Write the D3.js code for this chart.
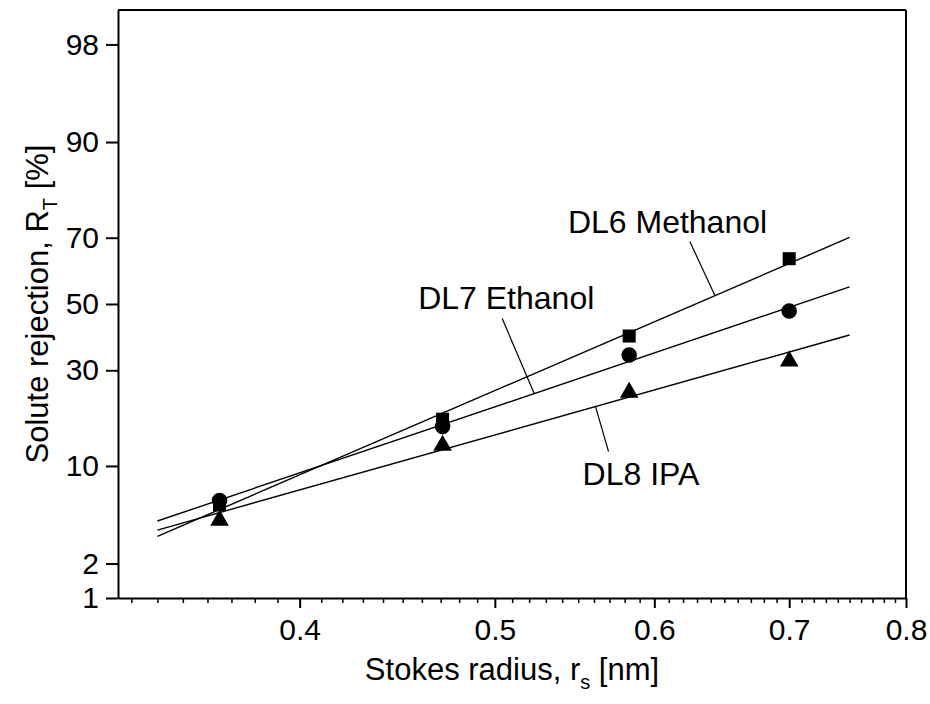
<!DOCTYPE html>
<html lang="en">
<head>
<meta charset="utf-8">
<title>Solute rejection vs Stokes radius</title>
<script src="https://d3js.org/d3.v7.min.js"></script>
<style>
body {
  margin: 0;
  background: #fff;
}
svg {
  font-family: "Liberation Sans", Arial, sans-serif;
}
.axis path, .axis line {
  stroke: #000;
}
.axis text {
  font-size: 30px;
  fill: #000;
}
</style>
</head>
<body>
<svg width="930" height="704"></svg>
<script>
// Stokes radius of the solutes [nm]
var radius = [0.365, 0.471, 0.583, 0.700];
// solute rejection R_T [%] per membrane / solvent
var methanol = [5.6, 18.1, 40.0, 64.0];   // DL6, squares
var ethanol = [6.0, 16.6, 34.3, 47.8];    // DL7, circles
var ipa = [4.5, 13.5, 24.7, 33.1];        // DL8, triangles
var seriesNames = ["DL6 Methanol", "DL7 Ethanol", "DL8 IPA"];
var yTicks = [1, 2, 10, 30, 50, 70, 90, 98];
var xTicks = [0.4, 0.5, 0.6, 0.7, 0.8];
var fitRange = [0.34, 0.75];

var svg = d3.select("svg"),
    margin = {top: 10, right: 24, bottom: 106, left: 118},
    width = +svg.attr("width") - margin.left - margin.right,
    height = +svg.attr("height") - margin.top - margin.bottom;

var g = svg.append("g").attr("transform", "translate(" + margin.left + "," + margin.top + ")");

// inverse normal cdf (Acklam)
function probit(p) {
  var a = [-3.969683028665376e+01, 2.209460984245205e+02, -2.759285104469687e+02, 1.383577518672690e+02, -3.066479806614716e+01, 2.506628277459239e+00],
      b = [-5.447609879822406e+01, 1.615858368580409e+02, -1.556989798598866e+02, 6.680131188771972e+01, -1.328068155288572e+01],
      c = [-7.784894002430293e-03, -3.223964580411365e-01, -2.400758277161838e+00, -2.549732539343734e+00, 4.374664141464968e+00, 2.938163982698783e+00],
      d = [7.784695709041462e-03, 3.224671290700398e-01, 2.445134137142996e+00, 3.754408661907416e+00];
  var q, r;
  if (p < 0.02425) {
    q = Math.sqrt(-2 * Math.log(p));
    return (((((c[0]*q+c[1])*q+c[2])*q+c[3])*q+c[4])*q+c[5]) / ((((d[0]*q+d[1])*q+d[2])*q+d[3])*q+1);
  }
  if (p > 1 - 0.02425) {
    q = Math.sqrt(-2 * Math.log(1 - p));
    return -(((((c[0]*q+c[1])*q+c[2])*q+c[3])*q+c[4])*q+c[5]) / ((((d[0]*q+d[1])*q+d[2])*q+d[3])*q+1);
  }
  q = p - 0.5;
  r = q * q;
  return (((((a[0]*r+a[1])*r+a[2])*r+a[3])*r+a[4])*r+a[5])*q / (((((b[0]*r+b[1])*r+b[2])*r+b[3])*r+b[4])*r+1);
}
function zOf(pct) { return probit(pct / 100); }

var x = d3.scaleLog().domain([0.325, 0.8]).range([0, width]);
var yz = d3.scaleLinear().domain([zOf(1), zOf(99)]).range([height, 0]);
function y(pct) { return yz(zOf(pct)); }

// x axis
var xMinor = d3.range(33, 80).map(function(v) { return v / 100; })
  .filter(function(v) { return xTicks.indexOf(v) < 0; });

g.append("g").attr("class", "axis")
  .attr("transform", "translate(0," + height + ")")
  .call(d3.axisBottom(x).tickValues(xMinor).tickSize(5).tickFormat(""))
  .call(function(s) { s.select(".domain").remove(); s.selectAll("line").attr("stroke-width", 1.5); });

g.append("g").attr("class", "axis")
  .attr("transform", "translate(0," + height + ")")
  .call(d3.axisBottom(x).tickValues(xTicks).tickSize(10).tickSizeOuter(0).tickPadding(11)
    .tickFormat(d3.format(".1f")))
  .call(function(s) { s.select(".domain").attr("stroke-width", 2); s.selectAll("line").attr("stroke-width", 2); });

// y axis (probability scale)
g.append("g").attr("class", "axis")
  .call(d3.axisLeft(yz).tickValues(yTicks.map(zOf)).tickSize(12).tickSizeOuter(0).tickPadding(7)
    .tickFormat(function(d, i) { return yTicks[i]; }))
  .call(function(s) { s.select(".domain").attr("stroke-width", 2); s.selectAll("line").attr("stroke-width", 2); });

// frame top/right
g.append("line").attr("x1", 0).attr("x2", width).attr("y1", 0).attr("y2", 0)
  .attr("stroke", "#000").attr("stroke-width", 2);
g.append("line").attr("x1", width).attr("x2", width).attr("y1", 0).attr("y2", height)
  .attr("stroke", "#000").attr("stroke-width", 2);

// linear fit of probit(R) against ln(r)
function fit(vals) {
  var u = radius.map(Math.log), z = vals.map(zOf);
  var mu = d3.mean(u), mz = d3.mean(z);
  var sxy = d3.sum(u, function(d, i) { return (d - mu) * (z[i] - mz); });
  var sxx = d3.sum(u, function(d) { return (d - mu) * (d - mu); });
  var k = sxy / sxx;
  return function(r) { return mz + k * (Math.log(r) - mu); };
}

var series = [
  {name: seriesNames[0], values: methanol, symbol: d3.symbolSquare, size: 170},
  {name: seriesNames[1], values: ethanol, symbol: d3.symbolCircle, size: 190},
  {name: seriesNames[2], values: ipa, symbol: d3.symbolTriangle, size: 150}
];
series.forEach(function(s) { s.f = fit(s.values); });

g.selectAll(".fit")
  .data(series)
  .enter().append("line")
    .attr("class", "fit")
    .attr("x1", x(fitRange[0])).attr("x2", x(fitRange[1]))
    .attr("y1", function(s) { return yz(s.f(fitRange[0])); })
    .attr("y2", function(s) { return yz(s.f(fitRange[1])); })
    .attr("stroke", "#000").attr("stroke-width", 1.4);

series.forEach(function(s) {
  g.selectAll(null)
    .data(s.values)
    .enter().append("path")
      .attr("d", d3.symbol().type(s.symbol).size(s.size))
      .attr("transform", function(d, i) {
        return "translate(" + x(radius[i]) + "," + y(d) + ")" + (s.symbol === d3.symbolTriangle ? " translate(0,2)" : "");
      })
      .attr("fill", "#000");
});

// labels with leader lines; leader touches fit line at radius "at"
var notes = [
  {s: series[0], at: 0.643, dx: -25, dy: -54, tx: -122, ty: -9},
  {s: series[1], at: 0.523, dx: -32, dy: -75, tx: -84, ty: -10},
  {s: series[2], at: 0.561, dx: 13, dy: 45, tx: -26, ty: 33}
];
notes.forEach(function(n) {
  var px = x(n.at), py = yz(n.s.f(n.at));
  g.append("line")
    .attr("x1", px).attr("y1", py)
    .attr("x2", px + n.dx).attr("y2", py + n.dy)
    .attr("stroke", "#000").attr("stroke-width", 1.2);
  g.append("text")
    .attr("x", px + n.dx + n.tx).attr("y", py + n.dy + n.ty)
    .attr("font-size", 32)
    .text(n.s.name);
});

// axis titles
var xt = g.append("text")
  .attr("x", width / 2).attr("y", height + 82)
  .attr("text-anchor", "middle").attr("font-size", 31);
xt.append("tspan").text("Stokes radius, r");
xt.append("tspan").attr("dy", 9).attr("font-size", 20).text("s");
xt.append("tspan").attr("dy", -9).text(" [nm]");

var yt = g.append("text")
  .attr("transform", "translate(" + (-70) + "," + (height / 2) + ") rotate(-90)")
  .attr("text-anchor", "middle").attr("font-size", 31);
yt.append("tspan").text("Solute rejection, R");
yt.append("tspan").attr("dy", 9).attr("font-size", 20).text("T");
yt.append("tspan").attr("dy", -9).text(" [%]");
</script>
</body>
</html>
